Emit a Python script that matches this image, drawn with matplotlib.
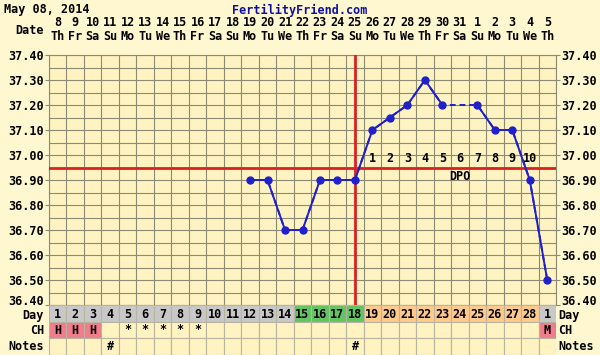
import numpy as np
import matplotlib
matplotlib.use("Agg")
import matplotlib.pyplot as plt
from matplotlib.transforms import blended_transform_factory

# chart data
dates = ['8', '9', '10', '11', '12', '13', '14', '15', '16', '17', '18', '19', '20', '21', '22',
         '23', '24', '25', '26', '27', '28', '29', '30', '31', '1', '2', '3', '4', '5']
weekdays = ['Th', 'Fr', 'Sa', 'Su', 'Mo', 'Tu', 'We', 'Th', 'Fr', 'Sa', 'Su', 'Mo', 'Tu', 'We', 'Th',
            'Fr', 'Sa', 'Su', 'Mo', 'Tu', 'We', 'Th', 'Fr', 'Sa', 'Su', 'Mo', 'Tu', 'We', 'Th']
cycle_days = [str(d) for d in range(1, 29)] + ['1']
temps = [None] * 11 + [36.90, 36.90, 36.70, 36.70, 36.90, 36.90, 36.90,
                       37.10, 37.15, 37.20, 37.30, 37.20, None, 37.20, 37.10, 37.10, 36.90, 36.50]
ch = ['H', 'H', 'H', '', '*', '*', '*', '*', '*'] + [''] * 19 + ['M']
notes = [''] * 3 + ['#'] + [''] * 13 + ['#'] + [''] * 11
day_phase = ['g'] * 14 + ['f'] * 4 + ['l'] * 10 + ['g']
coverline = 36.95
ovulation_col = 18
dpo_start = 19
dpo_labels = [str(i) for i in range(1, 11)]

bg = '#FFF7CF'
cell_bg = '#FFF3C2'
grid_c = '#8C8A72'
phase_colors = {'g': '#C8C8C8', 'f': '#62C462', 'l': '#FFCB8C'}
pink = '#F07C8C'
red = '#DD2020'
blue = '#2020CC'
mono = dict(family='DejaVu Sans Mono', fontweight='bold', fontsize=8.5)

W, H = 600, 355
L, R, T, B = 49, 556, 55, 305
fig = plt.figure(figsize=(6, 3.55), dpi=100, facecolor=bg)

n = len(dates)
x = np.arange(1, n + 1)

ax = fig.add_axes([L / W, 1 - B / H, (R - L) / W, (B - T) / H])
ax.set_facecolor(cell_bg)
ax.set_xlim(0.5, n + 0.5)
ax.set_ylim(36.40, 37.40)
for xv in np.arange(0.5, n + 1, 1):
    ax.axvline(xv, color=grid_c, lw=0.8, zorder=1)
for yv in np.arange(36.40, 37.401, 0.05):
    ax.axhline(yv, color=grid_c, lw=0.8, zorder=1)
for s in ax.spines.values():
    s.set_color(grid_c)
ax.set_xticks([])
yt = np.arange(36.40, 37.401, 0.10)
ax.set_yticks(yt)
ax.set_yticklabels([f'{v:.2f}' for v in yt], **mono)
ax.tick_params(axis='y', length=3, color=grid_c, pad=1, labelright=True, right=True)
# bottom label sits just above the day row
for lab in [ax.yaxis.get_majorticklabels()[0]]:
    lab.set_va('baseline')
ax.yaxis.get_major_ticks()[0].label2.set_va('baseline')

# coverline + ovulation line
ax.axhline(coverline, color=red, lw=2, zorder=3)
ax.axvline(ovulation_col, color=red, lw=2, zorder=3)

# temperatures
tv = np.array([np.nan if t is None else t for t in temps])
ok = ~np.isnan(tv)
ax.plot(x[ok], tv[ok], color=blue, lw=1.4, ls=(0, (3, 2)), zorder=4)
ax.plot(x, tv, color=blue, lw=1.4, marker='o', ms=5, zorder=5)

# DPO numbers
for i, lab in enumerate(dpo_labels):
    ax.text(dpo_start + i, 36.985, lab, ha='center', va='center', zorder=6, **mono)
ax.text(24, 36.915, 'DPO', ha='center', va='center', zorder=6, **mono)

# date header
tr = blended_transform_factory(ax.transData, fig.transFigure)
for xi, d, w in zip(x, dates, weekdays):
    ax.text(xi, 1 - 22 / H, d, transform=tr, ha='center', va='center', **mono)
    ax.text(xi, 1 - 37 / H, w, transform=tr, ha='center', va='center', **mono)
fig.text(44 / W, 1 - 30 / H, 'Date', ha='right', va='center', **mono)
fig.text(4 / W, 1 - 10 / H, 'May 08, 2014', ha='left', va='center', **mono)
fig.text(300 / W, 1 - 10 / H, 'FertilityFriend.com', ha='center', va='center',
         color='#1010A0', **mono)

# bottom rows
tb = fig.add_axes([L / W, 0, (R - L) / W, 1 - B / H])
tb.set_xlim(0.5, n + 0.5)
tb.set_ylim(3, 0)
tb.axis('off')
day_c = [phase_colors[p] for p in day_phase]
ch_c = [pink if c in ('H', 'M') else cell_bg for c in ch]
tb.bar(x, 1, bottom=0, width=1, color=day_c, edgecolor='#B8B4A0', lw=0.8)
tb.bar(x, 1, bottom=1, width=1, color=ch_c, edgecolor='#B8B4A0', lw=0.8)
tb.bar(x, 1, bottom=2, width=1, color=cell_bg, edgecolor='#B8B4A0', lw=0.8)
for xi, d, c, nt in zip(x, cycle_days, ch, notes):
    tb.text(xi, 0.55, d, ha='center', va='center', **mono)
    if c:
        tb.text(xi, 1.5, c, ha='center', va='center', **mono)
    if nt:
        tb.text(xi, 2.5, nt, ha='center', va='center', **mono)
tr2 = blended_transform_factory(fig.transFigure, tb.transData)
for yy, lab in zip([0.6, 1.5, 2.5], ['Day', 'CH', 'Notes']):
    fig.text(44 / W, yy, lab, transform=tr2, ha='right', va='center', **mono)
    fig.text(558 / W, yy, lab, transform=tr2, ha='left', va='center', **mono)

fig.savefig('out.png', dpi=100, facecolor=bg)
